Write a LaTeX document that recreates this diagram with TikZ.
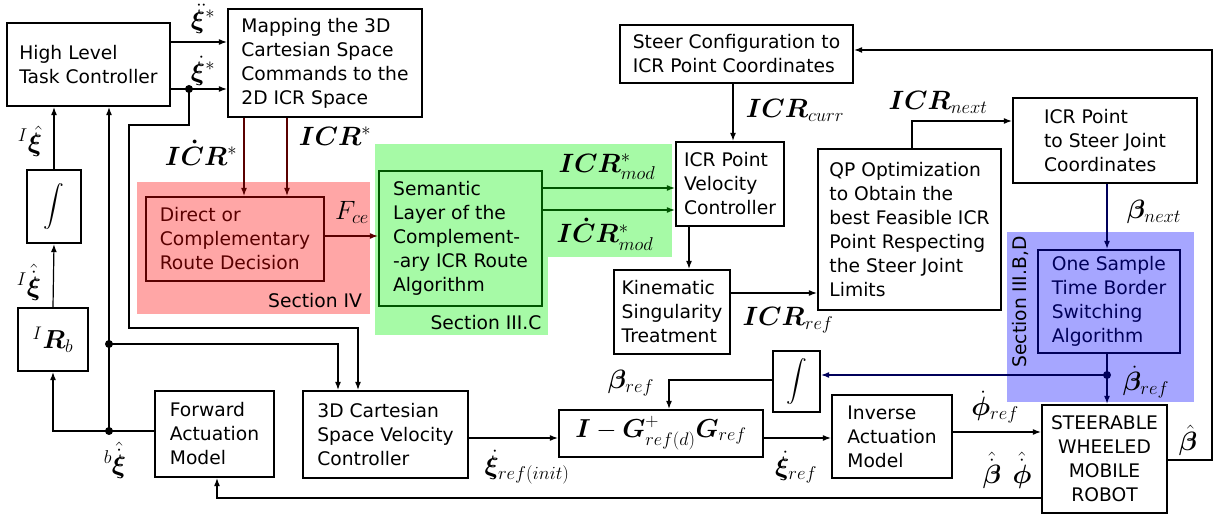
\RequirePackage{fix-cm}
\documentclass[tikz,border=0pt]{standalone}
\usepackage{amsmath}
\usepackage{bm}
\usepackage[no-math]{fontspec}
\setmainfont{DejaVu Sans}
\usetikzlibrary{arrows.meta}
\definecolor{redfill}{RGB}{255,166,166}
\definecolor{greenfill}{RGB}{166,250,166}
\definecolor{bluefill}{RGB}{166,166,255}
\definecolor{dred}{RGB}{90,0,0}
\definecolor{dgreen}{RGB}{0,85,0}
\definecolor{dblue}{RGB}{0,0,90}
\begin{document}
\begin{tikzpicture}[x=1pt,y=-1pt,font=\fontsize{18.7}{24}\selectfont,
  bx/.style={draw,line width=2.3pt,align=left,inner sep=0pt},
  lab/.style={inner sep=0pt,font=\fontsize{26.5}{30}\selectfont},
  seclab/.style={inner sep=0pt},
  con/.style={line width=1.2pt,-{Latex[length=8pt,width=6pt]}},
  jdot/.style={circle,fill,inner sep=0pt,minimum size=8pt}]
\useasboundingbox (0,0) rectangle (1216,518);
% coloured regions
\fill[redfill] (137,182) rectangle (370,314);
\fill[greenfill] (375,144) rectangle (548,335);
\fill[greenfill] (548,144) rectangle (672,257);
\fill[bluefill] (1007,232) rectangle (1194,402);
\node[seclab] (secIV) at (315,301) {Section IV};
\node[seclab] (secIIIC) at (486,323) {Section III.C};
\node[seclab,rotate=90] (secIIIBD) at (1020,302) {Section III.B,D};
% boxes
\node[bx,minimum width=163,minimum height=83] (hltc) at (88.5,64.5) {High Level\\Task Controller};
\node[bx,minimum width=194,minimum height=108] (map) at (325,63) {Mapping the 3D\\Cartesian Space\\Commands to the\\2D ICR Space};
\node[bx,minimum width=54,minimum height=73,font=\fontsize{22}{26}\selectfont] (int1) at (54,206.5) {$\displaystyle\int$};
\node[bx,minimum width=70,minimum height=63,font=\fontsize{26}{30}\selectfont] (irb) at (53,339.5) {$^{I}\bm{R}_b$};
\node[bx,draw=dred,text=dred,minimum width=178,minimum height=84] (dir) at (235,239) {Direct or\\Complementary\\Route Decision};
\node[bx,draw=dgreen,minimum width=163,minimum height=135] (sem) at (460.5,238.5) {Semantic\\Layer of the\\Complement-\\-ary ICR Route\\Algorithm};
\node[bx,minimum width=233,minimum height=58] (steer) at (736.5,54) {Steer Configuration to\\ICR Point Coordinates};
\node[bx,minimum width=108,minimum height=84] (icrv) at (730,184) {ICR Point\\Velocity\\Controller};
\node[bx,minimum width=116,minimum height=84] (kin) at (672,312) {Kinematic\\Singularity\\Treatment};
\node[bx,minimum width=183,minimum height=161] (qp) at (909.5,229.5) {QP Optimization\\to Obtain the\\best Feasible ICR\\Point Respecting\\the Steer Joint\\Limits};
\node[bx,minimum width=184,minimum height=85] (icr2s) at (1105,140.5) {ICR Point\\to Steer Joint\\Coordinates};
\node[bx,draw=dblue,text=dblue,minimum width=142,minimum height=103] (one) at (1109,301.5) {One Sample\\Time Border\\Switching\\Algorithm};
\node[bx,minimum width=119,minimum height=86] (fwd) at (214.5,434) {Forward\\Actuation\\Model};
\node[bx,minimum width=165,minimum height=87] (cart) at (385.5,434.5) {3D Cartesian\\Space Velocity\\Controller};
\node[bx,minimum width=204,minimum height=47,font=\fontsize{26}{30}\selectfont] (ig) at (661,433.5) {$\bm{I}-\bm{G}^{+}_{ref(d)}\bm{G}_{ref}$};
\node[bx,minimum width=47,minimum height=61,font=\fontsize{22}{26}\selectfont] (int2) at (796.5,381.5) {$\displaystyle\int$};
\node[bx,minimum width=120,minimum height=83] (inv) at (892,436.5) {Inverse\\Actuation\\Model};
\node[bx,align=center,minimum width=125,minimum height=108] (robot) at (1104.5,459) {STEERABLE\\WHEELED\\MOBILE\\ROBOT};
% helper coordinates
\coordinate (yA) at (0,42);
\coordinate (yB) at (0,89);
\node[jdot] (d0) at (189,89) {};
\coordinate (c1) at (189,125);
\coordinate (c2) at (129,125);
\coordinate (c3) at (129,328);
\coordinate (c4) at (358,328);
\node[jdot] (d1) at (109,344) {};
\node[jdot] (d2) at (109,431) {};
\coordinate (c5) at (338,344);
\coordinate (c6) at (53,431);
\coordinate (xr1) at (244,0);
\coordinate (xr2) at (287,0);
\coordinate (yF) at (0,236);
\coordinate (yG1) at (0,188);
\coordinate (yG2) at (0,210);
\coordinate (xS) at (733,0);
\coordinate (xK) at (689,0);
\coordinate (yK) at (0,293);
\coordinate (c7) at (912,121);
\coordinate (xB) at (1107,0);
\node[jdot,dblue] (d3) at (1107,375) {};
\coordinate (c8) at (669,380);
\coordinate (yC) at (0,438);
\coordinate (yI) at (0,432);
\coordinate (c9) at (1212,460);
\coordinate (c10) at (1212,50);
\coordinate (c11) at (217,498);
% connectors
\draw[con] (hltc.east |- yA) -- (map.west |- yA);
\draw[con] (hltc.east |- yB) -- (map.west |- yB);
\draw[con] (d0.center) -- (c1) -- (c2) -- (c3) -- (c4) -- (cart.north -| c4);
\draw[con] (d2.center) -- (hltc.south -| d2);
\draw[con] (d1.center) -- (c5) -- (cart.north -| c5);
\draw[con] (fwd.west |- c6) -- (c6) -- (irb.south);
\draw[con] (irb.north) -- (int1.south);
\draw[con] (int1.north) -- (hltc.south -| int1);
\draw[con,dred] (map.south -| xr1) -- (dir.north -| xr1);
\draw[con,dred] (map.south -| xr2) -- (dir.north -| xr2);
\draw[con,dred] (dir.east |- yF) -- (sem.west |- yF);
\draw[con,dgreen] (sem.east |- yG1) -- (icrv.west |- yG1);
\draw[con,dgreen] (sem.east |- yG2) -- (icrv.west |- yG2);
\draw[con] (steer.south -| xS) -- (icrv.north -| xS);
\draw[con] (icrv.south -| xK) -- (kin.north -| xK);
\draw[con] (kin.east |- yK) -- (qp.west |- yK);
\draw[con] (qp.north -| c7) -- (c7) -- (icr2s.west |- c7);
\draw[con,dblue] (icr2s.south -| xB) -- (one.north -| xB);
\draw[con,dblue] (one.south -| xB) -- (robot.north -| xB);
\draw[con,dblue] (d3.center) -- (int2.east |- d3);
\draw[con] (int2.west |- c8) -- (c8) -- (ig.north -| c8);
\draw[con] (cart.east |- yC) -- (ig.west |- yC);
\draw[con] (ig.east |- yC) -- (inv.west |- yC);
\draw[con] (inv.east |- yI) -- (robot.west |- yI);
\draw[con] (robot.east |- c9) -- (c9) -- (c10) -- (steer.east |- c10);
\draw[con] (robot.west |- c11) -- (c11) -- (fwd.south -| c11);
% labels
\node[lab] (lddxi) at (203,19) {$\ddot{\bm{\xi}}^{*}$};
\node[lab] (ldxi) at (203,71) {$\dot{\bm{\xi}}^{*}$};
\node[lab] (lIxi) at (30,141) {$^{I}\hat{\bm{\xi}}$};
\node[lab] (lIdxi) at (29,282) {$^{I}\hat{\dot{\bm{\xi}}}$};
\node[lab] (lbdxi) at (115,460) {$^{b}\hat{\dot{\bm{\xi}}}$};
\node[lab] (ldicr) at (201,153) {$\bm{I\dot{C}R}^{*}$};
\node[lab] (licr) at (335,136) {$\bm{ICR}^{*}$};
\node[lab] (lfce) at (352,212) {$F_{ce}$};
\node[lab] (licrm) at (607,167) {$\bm{ICR}^{*}_{mod}$};
\node[lab] (ldicrm) at (605,234) {$\bm{I\dot{C}R}^{*}_{mod}$};
\node[lab] (lcurr) at (795,110) {$\bm{ICR}_{curr}$};
\node[lab] (lnext) at (938,102) {$\bm{ICR}_{next}$};
\node[lab] (lref) at (788,320) {$\bm{ICR}_{ref}$};
\node[lab] (lbnext) at (1154,212) {$\bm{\beta}_{next}$};
\node[lab] (ldbref) at (1146,382) {$\dot{\bm{\beta}}_{ref}$};
\node[lab] (lbref) at (631,383) {$\bm{\beta}_{ref}$};
\node[lab] (lxinit) at (527,467) {$\dot{\bm{\xi}}_{ref(init)}$};
\node[lab] (lxref) at (796,467) {$\dot{\bm{\xi}}_{ref}$};
\node[lab] (lphiref) at (995,407) {$\dot{\bm{\phi}}_{ref}$};
\node[lab] (lhdb) at (992,470) {$\hat{\dot{\bm{\beta}}}$};
\node[lab] (lhdp) at (1022,470) {$\hat{\dot{\bm{\phi}}}$};
\node[lab] (lhb) at (1188,440) {$\hat{\bm{\beta}}$};
\end{tikzpicture}
\end{document}
